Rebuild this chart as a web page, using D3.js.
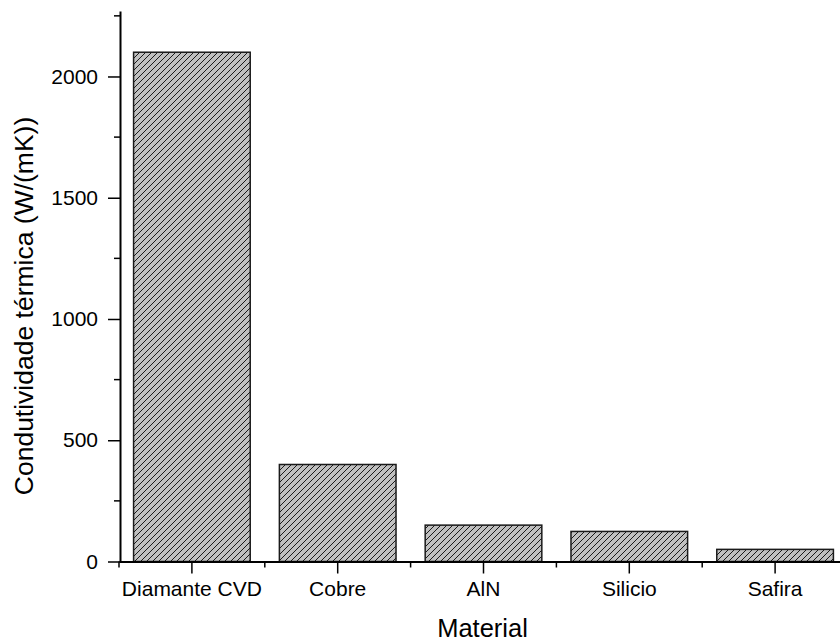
<!DOCTYPE html>
<html>
<head>
<meta charset="utf-8">
<script src="https://cdn.jsdelivr.net/npm/d3@7"></script>
<style>
  html, body { margin: 0; padding: 0; background: #fff; }
  svg { display: block; }
</style>
</head>
<body>
<svg id="chart" width="840" height="644"></svg>
<script>
// Thermal conductivity by material
const materials = ["Diamante CVD", "Cobre", "AlN", "Silicio", "Safira"];
const conductivity = [2100, 400, 150, 124, 50];
const yMajorTicks = [0, 500, 1000, 1500, 2000];
const yMinorTicks = [250, 750, 1250, 1750, 2250];

const FONT = "'Liberation Sans', Arial, Helvetica, sans-serif";

const svg = d3.select("#chart");

const x = d3.scaleBand()
  .domain(materials)
  .range([119, 848])
  .paddingInner(0.2)
  .paddingOuter(0.1);

const y = d3.scaleLinear()
  .domain([0, 2270])
  .range([561.5, 11]);

// diagonal hatch fill for the bars
const defs = svg.append("defs");
const pat = defs.append("pattern")
  .attr("id", "hatch")
  .attr("patternUnits", "userSpaceOnUse")
  .attr("width", 6)
  .attr("height", 6);
pat.append("rect").attr("width", 6).attr("height", 6).attr("fill", "#c0c0c0");
pat.append("path")
  .attr("d", "M-1,1 l2,-2 M0,6 l6,-6 M5,7 l2,-2")
  .attr("stroke", "#1a1a1a")
  .attr("stroke-width", 1);

// bars
svg.append("g")
  .selectAll("rect")
  .data(materials)
  .join("rect")
  .attr("x", d => x(d))
  .attr("y", (d, i) => y(conductivity[i]))
  .attr("width", x.bandwidth())
  .attr("height", (d, i) => y(0) - y(conductivity[i]))
  .attr("fill", "url(#hatch)")
  .attr("stroke", "#1a1a1a")
  .attr("stroke-width", 1.5);

// x axis
const xAxis = svg.append("g")
  .attr("transform", `translate(0,${y(0)})`)
  .call(d3.axisBottom(x).tickSize(12).tickSizeOuter(0).tickPadding(8));
xAxis.attr("font-family", FONT);
xAxis.select(".domain").attr("stroke-width", 2).attr("stroke", "#000");
xAxis.selectAll(".tick line").attr("stroke-width", 1.5);
xAxis.selectAll("text")
  .attr("font-family", FONT)
  .attr("font-size", 21)
  .attr("fill", "#000");

// minor ticks on the band boundaries
const step = x.step();
const boundaries = materials.map(d => x(d) + x.bandwidth() / 2 - step / 2)
  .concat([x(materials[materials.length - 1]) + x.bandwidth() / 2 + step / 2]);
xAxis.append("g")
  .selectAll("line")
  .data(boundaries)
  .join("line")
  .attr("x1", d => d).attr("x2", d => d)
  .attr("y1", 0).attr("y2", 6)
  .attr("stroke", "#000")
  .attr("stroke-width", 1.5);

// y axis
const yAxis = svg.append("g")
  .attr("transform", "translate(120,0)")
  .call(d3.axisLeft(y)
    .tickValues(yMajorTicks)
    .tickFormat(d3.format("d"))
    .tickSize(12)
    .tickSizeOuter(0)
    .tickPadding(10));
yAxis.attr("font-family", FONT);
yAxis.select(".domain").attr("stroke-width", 2).attr("stroke", "#000");
yAxis.selectAll(".tick line").attr("stroke-width", 1.5);
yAxis.selectAll("text")
  .attr("font-family", FONT)
  .attr("font-size", 21)
  .attr("fill", "#000");

yAxis.append("g")
  .selectAll("line")
  .data(yMinorTicks)
  .join("line")
  .attr("x1", -6).attr("x2", 0)
  .attr("y1", d => y(d)).attr("y2", d => y(d))
  .attr("stroke", "#000")
  .attr("stroke-width", 1.5);

// axis titles
svg.append("text")
  .attr("x", 482.5)
  .attr("y", 637)
  .attr("text-anchor", "middle")
  .attr("font-family", FONT)
  .attr("font-size", 25.5)
  .attr("fill", "#000")
  .text("Material");

svg.append("text")
  .attr("transform", "translate(33,306) rotate(-90)")
  .attr("text-anchor", "middle")
  .attr("font-family", FONT)
  .attr("font-size", 26.5)
  .attr("fill", "#000")
  .text("Condutividade térmica (W/(mK))");
</script>
</body>
</html>
